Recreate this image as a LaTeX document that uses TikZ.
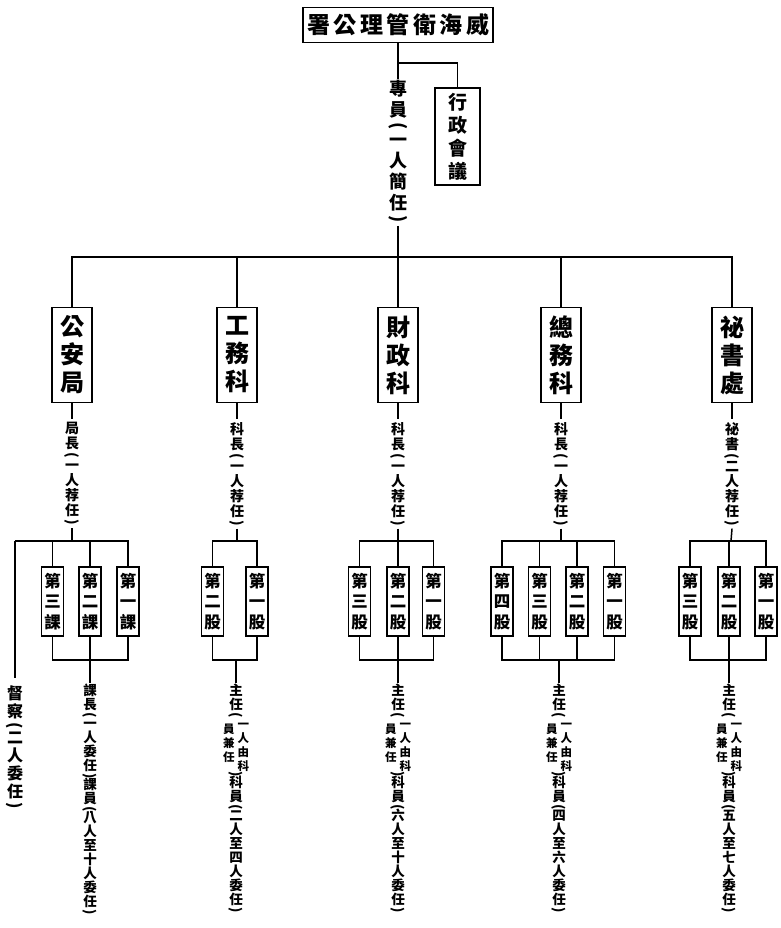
\documentclass[tikz,border=0pt]{standalone}
\usepackage{fontspec}
\setmainfont{Noto Sans CJK TC}
\usepackage{graphicx}
\usetikzlibrary{positioning}
% vertical brackets and squeeze around them
\newlength{\sqamt}
\newcommand{\lp}{\rotatebox[origin=c]{-90}{(}}
\newcommand{\rp}{\rotatebox[origin=c]{-90}{)}}
\newcommand{\sq}{\\[-\sqamt]}
% two small columns inside the bracket
\newcommand{\jianren}{{\fontsize{11.5}{13.5}\selectfont
  \raisebox{-5pt}{\begin{tabular}[t]{@{}c@{}}員\\兼\\任\end{tabular}}\hspace{3pt}%
  \begin{tabular}[t]{@{}c@{}}一\\人\\由\\科\end{tabular}}}
\tikzset{
  orgbox/.style={
    draw,
    line width=1.6pt,
    align=center,
    inner sep=0pt
  },
  deptbox/.style={
    orgbox,
    minimum width=40pt,
    minimum height=95pt,
    font=\bfseries\fontsize{24}{28}\selectfont
  },
  sectbox/.style={
    orgbox,
    line width=1.3pt,
    minimum width=22pt,
    minimum height=69pt,
    font=\bfseries\fontsize{16.5}{20.5}\selectfont
  },
  link/.style={line width=1.5pt},
  heavylink/.style={line width=2.6pt},
  note/.style={inner sep=1pt, align=center}
}

\begin{document}
\begin{tikzpicture}[
  x=1pt, y=-1pt,
  deptnote/.style={note, font=\bfseries\fontsize{14}{15}\selectfont\setlength{\sqamt}{4pt}},
  staffnote/.style={note, anchor=north, font=\bfseries\fontsize{13.5}{14}\selectfont\setlength{\sqamt}{4.5pt}}
]
  \useasboundingbox (0,0) rectangle (780,928);

  \node[orgbox, minimum width=190pt, minimum height=35pt, font=\bfseries\fontsize{23}{27}\selectfont] (shu) at (398,25) {\makebox[182pt][s]{署 公 理 管 衛 海 威}};
  \node[orgbox, minimum width=45pt, minimum height=97pt, font=\bfseries\fontsize{19}{23}\selectfont] (xingzheng) at (457.5,136.5) {行\\政\\會\\議};
  \node[note, anchor=north, font=\bfseries\fontsize{18}{21}\selectfont\setlength{\sqamt}{6pt}] (zhuan) at (398,79) {專\\員\sq\lp\sq 一\\人\\簡\\任\sq\rp};
  \coordinate (fork) at (398,63);
  \coordinate (bar) at (398,257);
  \draw[link] (shu.south) -- (zhuan.north);
  \draw[link] (fork) -| (xingzheng.north);
  \draw[link] (zhuan.south) -- (bar);

  \node[deptbox] (gongan) at (72,355) {公\\安\\局};
  \node[deptbox] (gongwu) at (237,355) {工\\務\\科};
  \node[deptbox] (caizheng) at (398,355) {財\\政\\科};
  \node[deptbox] (zongwu) at (561,355) {總\\務\\科};
  \node[deptbox] (mishu) at (732,355) {祕\\書\\處};
  \draw[link] (gongan.north) |- (bar) -| (mishu.north);
  \draw[link] (gongwu.north) -- (gongwu.north |- bar);
  \draw[link] (caizheng.north) -- (bar);
  \draw[link] (zongwu.north) -- (zongwu.north |- bar);

  \node[deptnote, below=18pt of gongan] (galab) {局\\長\sq\lp\sq 一\\人\\荐\\任\sq\rp};
  \node[deptnote, below=18pt of gongwu] (gwlab) {科\\長\sq\lp\sq 一\\人\\荐\\任\sq\rp};
  \node[deptnote, below=18pt of caizheng] (czlab) {科\\長\sq\lp\sq 一\\人\\荐\\任\sq\rp};
  \node[deptnote, below=18pt of zongwu] (zwlab) {科\\長\sq\lp\sq 一\\人\\荐\\任\sq\rp};
  \node[deptnote, below=18pt of mishu] (mslab) {祕\\書\sq\lp\sq 二\\人\\荐\\任\sq\rp};
  \foreach \d in {gongan,gongwu,caizheng,zongwu,mishu}
    \draw[link] (\d.south) -- ++(0,16);

  % 公安局
  \node[sectbox] (ga3) at (52.5,601.5) {第\\三\\課};
  \node[sectbox] (ga2) at (90,601.5) {第\\二\\課};
  \node[sectbox] (ga1) at (128,601.5) {第\\一\\課};
  \node[note, anchor=north, font=\bfseries\fontsize{16}{18}\selectfont\setlength{\sqamt}{5pt}] (dulab) at (15,685) {督\\察\sq\lp\sq 二\\人\\委\\任\sq\rp};
  \node[staffnote] (kelab) at (90,683) {課\\長\sq\lp\sq 一\\人\\委\\任\sq\rp\sq 課\\員\sq\lp\sq 八\\人\\至\\十\\人\\委\\任\sq\rp};
  \coordinate (gatop) at (72,541);
  \coordinate (gabot) at (90,660);
  \draw[link] (galab.south) -- (gatop);
  \draw[heavylink] (dulab.north |- gatop) -- ([yshift=7pt]dulab.north);
  \draw[link] (dulab.north |- gatop) -| (ga1.north);
  \draw[link] (ga3.north) -- (ga3.north |- gatop);
  \draw[link] (ga2.north) -- (ga2.north |- gatop);
  \draw[link] (ga3.south) |- (gabot) -| (ga1.south);
  \draw[link] (ga2.south) -- (kelab.north);

  % 工務科
  \node[sectbox] (gw2) at (212.5,601.5) {第\\二\\股};
  \node[sectbox] (gw1) at (257,601.5) {第\\一\\股};
  \node[staffnote] (gwstaff) at (236,683) {主\\任\sq\lp\sq\jianren\sq\rp\sq 科\\員\sq\lp\sq 二\\人\\至\\四\\人\\委\\任\sq\rp};
  \coordinate (gwtop) at (237,541);
  \coordinate (gwbot) at (236,660);
  \draw[link] (gwlab.south) -- (gwtop);
  \draw[link] (gw2.north) |- (gwtop) -| (gw1.north);
  \draw[link] (gw2.south) |- (gwbot) -| (gw1.south);
  \draw[link] (gwbot) -- (gwstaff.north);

  % 財政科
  \node[sectbox] (cz3) at (359.5,601.5) {第\\三\\股};
  \node[sectbox] (cz2) at (398,601.5) {第\\二\\股};
  \node[sectbox] (cz1) at (433.5,601.5) {第\\一\\股};
  \node[staffnote] (czstaff) at (398,683) {主\\任\sq\lp\sq\jianren\sq\rp\sq 科\\員\sq\lp\sq 六\\人\\至\\十\\人\\委\\任\sq\rp};
  \coordinate (cztop) at (398,541);
  \coordinate (czbot) at (398,660);
  \draw[link] (czlab.south) -- (cztop);
  \draw[link] (cz3.north) |- (cztop) -| (cz1.north);
  \draw[link] (cz2.north) -- (cztop);
  \draw[link] (cz3.south) |- (czbot) -| (cz1.south);
  \draw[link] (cz2.south) -- (czstaff.north);

  % 總務科
  \node[sectbox] (zw4) at (502,601.5) {第\\四\\股};
  \node[sectbox] (zw3) at (539.5,601.5) {第\\三\\股};
  \node[sectbox] (zw2) at (577,601.5) {第\\二\\股};
  \node[sectbox] (zw1) at (614.5,601.5) {第\\一\\股};
  \node[staffnote] (zwstaff) at (559,683) {主\\任\sq\lp\sq\jianren\sq\rp\sq 科\\員\sq\lp\sq 四\\人\\至\\六\\人\\委\\任\sq\rp};
  \coordinate (zwtop) at (561,541);
  \coordinate (zwbot) at (559,660);
  \draw[link] (zwlab.south) -- (zwtop);
  \draw[link] (zw4.north) |- (zwtop) -| (zw1.north);
  \draw[link] (zw3.north) -- (zw3.north |- zwtop);
  \draw[link] (zw2.north) -- (zw2.north |- zwtop);
  \draw[link] (zw4.south) |- (zwbot) -| (zw1.south);
  \draw[link] (zw3.south) -- (zw3.south |- zwbot);
  \draw[link] (zw2.south) -- (zw2.south |- zwbot);
  \draw[link] (zwbot) -- (zwstaff.north);

  % 祕書處
  \node[sectbox] (ms3) at (690,601.5) {第\\三\\股};
  \node[sectbox] (ms2) at (729,601.5) {第\\二\\股};
  \node[sectbox] (ms1) at (766,601.5) {第\\一\\股};
  \node[staffnote] (msstaff) at (729,683) {主\\任\sq\lp\sq\jianren\sq\rp\sq 科\\員\sq\lp\sq 五\\人\\至\\七\\人\\委\\任\sq\rp};
  \coordinate (mstop) at (731,541);
  \coordinate (msbot) at (729,660);
  \draw[link] (mslab.south) -- (mstop);
  \draw[link] (ms3.north) |- (mstop) -| (ms1.north);
  \draw[link] (ms2.north) -- (ms2.north |- mstop);
  \draw[link] (ms3.south) |- (msbot) -| (ms1.south);
  \draw[link] (ms2.south) -- (msstaff.north);
\end{tikzpicture}
\end{document}
